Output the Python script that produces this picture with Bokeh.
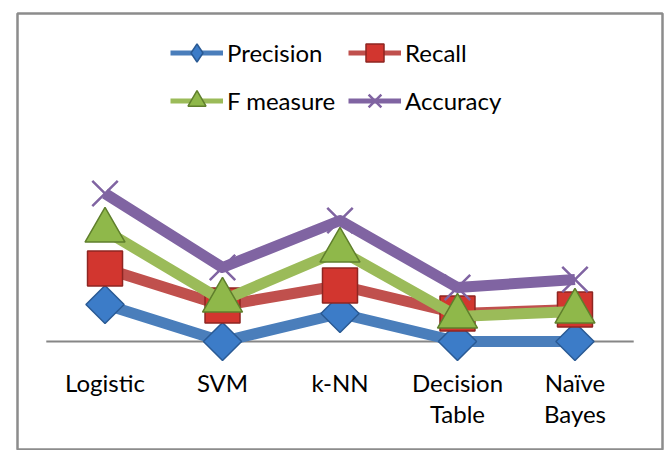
import math
from bokeh.plotting import figure
from bokeh.models import FactorRange, Range1d, Legend, LegendItem
from bokeh.embed import file_html
from bokeh.resources import INLINE
from bokeh.core.properties import value

# ---- data (arbitrary units, axis at 0) ----
categories = ["Logistic", "SVM", "k-NN", "Decision Table", "Naïve Bayes"]
tick_labels = ["Logistic", "SVM", "k-NN", "Decision\nTable", "Naïve\nBayes"]
series_names = ["Precision", "Recall", "F measure", "Accuracy"]
precision = [37, 0, 28, 0, 0]
recall = [73, 36, 56, 28, 32]
f_measure = [111, 41, 91, 25, 30]
accuracy = [148, 74, 121, 54, 62]

# ---- styles ----
styles = [
    # line color, marker, size, angle, fill, edge, edge width, legend marker
    ("#4a7ebb", "square", 27, math.pi / 4, "#3c7cc8", "#2a5a94", 1.5, "diamond"),
    ("#c0504d", "square", 35, 0.0, "#d2362f", "#8e2622", 1.5, None),
    ("#9bbb59", "triangle", 40, 0.0, "#8fb84a", "#5f7f2c", 1.5, None),
    ("#8064a2", "x", 36, 0.0, "#8064a2", "#8064a2", 2.5, None),
]
values_list = [precision, recall, f_measure, accuracy]

p = figure(
    width=667, height=450,
    x_range=FactorRange(factors=categories, range_padding=0.245,
                        range_padding_units="absolute"),
    y_range=Range1d(-109, 328),
    output_backend="svg", toolbar_location=None,
    x_axis_location=None, y_axis_location=None,
    min_border_left=17, min_border_right=5, min_border_top=13, min_border_bottom=0,
)
p.grid.grid_line_color = None
p.outline_line_color = "#8c8c8c"
p.outline_line_width = 2.5
p.background_fill_color = "white"
p.border_fill_color = "white"

# horizontal category axis line
p.segment(x0=[0], y0=[0], x1=[len(categories)], y1=[0],
          line_color="#868686", line_width=2)

# category labels
p.text(x=categories, y=[0] * len(categories), text=tick_labels,
       y_offset=26, text_align="center", text_baseline="top",
       text_font=value("Lato"), text_font_size="24px",
       text_line_height=1.08, text_color="#000000")

items = []
for name, vals, st in zip(series_names, values_list, styles):
    lc, mk, sz, ang, fc, ec, ew, legmk = st
    # thin line (hidden under the thick one) used for the legend swatch
    leg_line = p.line(categories, vals, line_width=5, line_color=lc)
    p.line(categories, vals, line_width=11, line_color=lc, line_join="round")
    leg_marker = None
    if legmk is not None:
        leg_marker = p.scatter(categories, vals, marker=legmk, size=20,
                               fill_color=fc, line_color=ec, line_width=ew)
    s = p.scatter(categories, vals, marker=mk, size=sz, angle=ang,
                  fill_color=fc, line_color=ec, line_width=ew)
    items.append(LegendItem(label=name,
                            renderers=[leg_line, leg_marker if leg_marker is not None else s]))

legend = Legend(
    items=items, location=(153, 327), orientation="horizontal", ncols=2,
    glyph_width=53, glyph_height=45, label_standoff=4, spacing=3,
    padding=0, margin=0, label_width=118,
    label_text_font="Lato", label_text_font_size="24px",
    label_text_color="#000000",
    border_line_color=None, background_fill_alpha=0,
)
p.add_layout(legend)

open("out.html", "w").write(file_html(p, INLINE))
